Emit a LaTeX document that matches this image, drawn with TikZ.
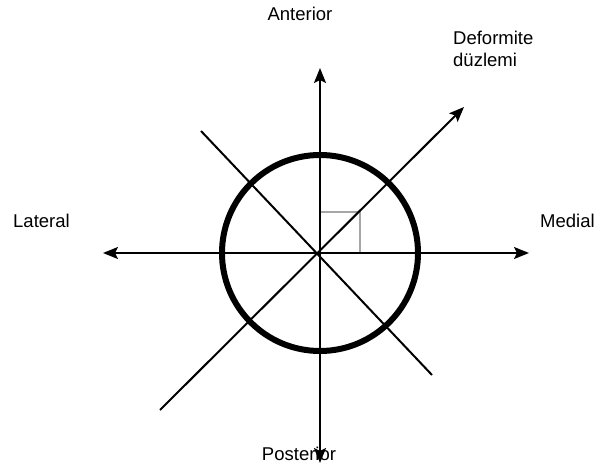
\documentclass[tikz,border=0pt]{standalone}
\usepackage{fontspec}
\setmainfont{Liberation Sans}
\usetikzlibrary{arrows.meta,positioning}

\begin{document}
\begin{tikzpicture}[x=1pt,y=-1pt,
  axisline/.style={black, line width=2pt},
  axisarrow/.style={axisline, -{Stealth[length=15pt,width=12pt,inset=3pt]}},
  dirlabel/.style={font=\fontsize{18.5}{22}\selectfont, inner sep=0pt},
]
\useasboundingbox (0,0) rectangle (603,468);
% centre of the cross, axis ends in pixel coordinates
\coordinate (O) at (320,253);
\coordinate (top) at (320,68);
\coordinate (bot) at (320,463);
\coordinate (lft) at (103,253);
\coordinate (rgt) at (529,253);
\coordinate (ne) at (464,107);
\coordinate (sw) at (160,410);
\coordinate (nw) at (201,131);
\coordinate (se) at (432,375);

% right angle mark
\draw[gray!70, line width=1.5pt] (321,212) -- (360,212) -- (360,253);

\draw[axisarrow] (O) -- (top);
\draw[axisarrow] (O) -- (bot);
\draw[axisarrow] (O) -- (lft);
\draw[axisarrow] (O) -- (rgt);
\draw[axisarrow] (sw) -- (ne);
\draw[axisline] (nw) -- (se);

\draw[black, line width=6pt] (O) circle (98);

% labels (base of a two-line node = last line)
\node[dirlabel, anchor=base] (anterior) at (300,21) {Anterior};
\node[dirlabel, anchor=base] (posterior) at (299,460) {Posterior};
\node[dirlabel, anchor=base west] (lateral) at (13,227) {Lateral};
\node[dirlabel, anchor=base west] (medial) at (540,227) {Medial};
\node[dirlabel, anchor=base west, align=left] (plane) at (453,67) {Deformite\\düzlemi};
\end{tikzpicture}
\end{document}
